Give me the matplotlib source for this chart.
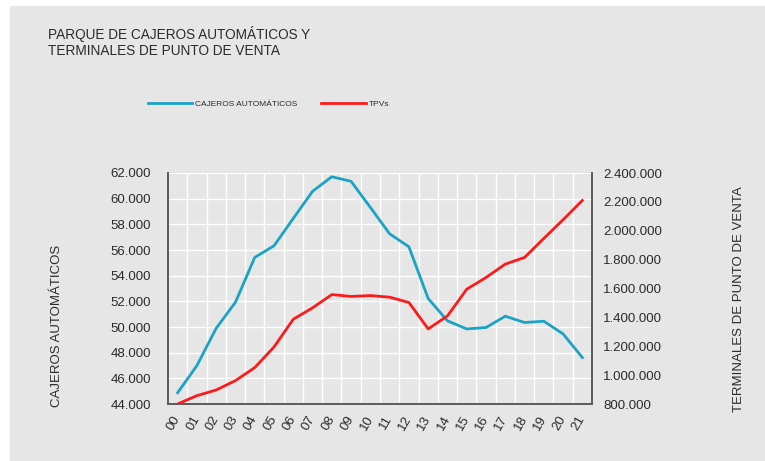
import matplotlib
matplotlib.use("Agg")
import matplotlib.pyplot as plt
from matplotlib.patches import Rectangle
from matplotlib.ticker import FuncFormatter, MultipleLocator

# -----------------------------
#  DATA
# -----------------------------
years = ["00", "01", "02", "03", "04", "05", "06", "07", "08", "09", "10",
         "11", "12", "13", "14", "15", "16", "17", "18", "19", "20", "21"]
cajeros = [44880, 46990, 49900, 51930, 55420, 56330, 58460, 60570, 61710, 61350, 59320,
           57260, 56250, 52220, 50480, 49850, 49960, 50840, 50350, 50450, 49460, 47620]
tpvs = [800000, 858000, 897000, 962000, 1052000, 1195000, 1387000, 1466000, 1558000, 1545000, 1551000,
        1540000, 1503000, 1320000, 1410000, 1595000, 1676000, 1769000, 1815000, 1947000, 2076000, 2210000]

BG = "#e6e6e6"
TXT = "#2b2b2b"
BLUE = "#1ba3c6"
RED = "#ff1a1a"
SPINE = "#5a5a5a"

plt.rcParams["font.family"] = ["Liberation Sans", "DejaVu Sans"]

fig = plt.figure(figsize=(7.65, 4.61), dpi=100)
fig.patch.set_facecolor("white")
fig.patches.append(Rectangle((10 / 765, 0), 1 - 10 / 765, 1 - 6 / 461,
                             transform=fig.transFigure, facecolor=BG,
                             edgecolor="none", zorder=-10))

ax = fig.add_axes([168 / 765, 1 - 404 / 461, 424 / 765, 231 / 461])
ax.set_facecolor(BG)
ax2 = ax.twinx()

x = list(range(len(years)))
l1, = ax.plot(x, cajeros, color=BLUE, lw=2, zorder=3)
l2, = ax2.plot(x, tpvs, color=RED, lw=2, zorder=3)

ax.set_xlim(-0.5, len(years) - 0.5)
ax.set_ylim(44000, 62000)
ax2.set_ylim(800000, 2400000)
ax.yaxis.set_major_locator(MultipleLocator(2000))
ax2.yaxis.set_major_locator(MultipleLocator(200000))

fmt = FuncFormatter(lambda v, p: f"{int(v):,}".replace(",", "."))
ax.yaxis.set_major_formatter(fmt)
ax2.yaxis.set_major_formatter(fmt)

ax.set_xticks(x)
ax.set_xticklabels(years, rotation=60, ha="right", va="center",
                   rotation_mode="anchor")
ax.set_xticks([i + 0.5 for i in x[:-1]], minor=True)

ax.grid(True, which="minor", axis="x", color="white", lw=1)
ax.grid(True, which="major", axis="y", color="white", lw=1)
ax.set_axisbelow(True)

for a in (ax, ax2):
    a.tick_params(length=0, which="both", colors=TXT, labelsize=9.5)
    a.spines["top"].set_visible(False)
    for s in ("left", "right", "bottom"):
        a.spines[s].set_color(SPINE)
        a.spines[s].set_linewidth(1.2)
ax.tick_params(axis="y", pad=12)
ax2.tick_params(axis="y", pad=8)
ax.tick_params(axis="x", pad=9)

fig.text(57 / 765, 1 - 326 / 461, "CAJEROS AUTOMÁTICOS", rotation=90,
         ha="center", va="center", fontsize=9.5, color=TXT)
fig.text(739 / 765, 1 - 299 / 461, "TERMINALES DE PUNTO DE VENTA", rotation=90,
         ha="center", va="center", fontsize=9.5, color=TXT)

fig.text(48 / 765, 1 - 42 / 461, "PARQUE DE CAJEROS AUTOMÁTICOS Y\nTERMINALES DE PUNTO DE VENTA",
         ha="left", va="center", fontsize=9.8, color=TXT, linespacing=1.15)

# legend drawn as a row above the plot
fig.legend([l1, l2], ["CAJEROS AUTOMÁTICOS", "TPVs"], loc="center left",
           bbox_to_anchor=(140 / 765, 1 - 104 / 461), ncol=2, frameon=False,
           fontsize=6, handlelength=5.3, handletextpad=0.4, columnspacing=2.9,
           labelcolor=TXT)

fig.savefig("out.png", dpi=100, facecolor=fig.get_facecolor())
